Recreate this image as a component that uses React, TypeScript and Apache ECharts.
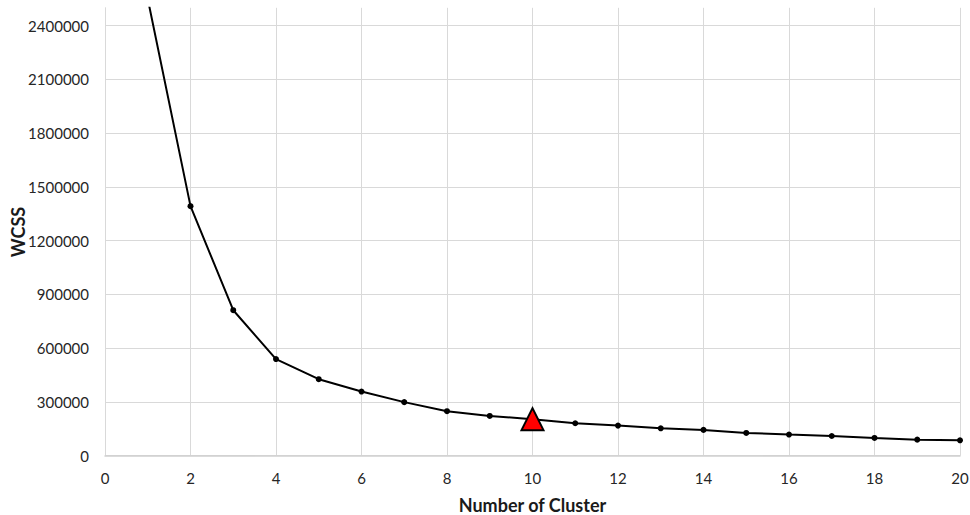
import React, { useEffect, useRef } from "react";
import * as echarts from "echarts";

const clusters = [1, 2, 3, 4, 5, 6, 7, 8, 9, 10, 11, 12, 13, 14, 15, 16, 17, 18, 19, 20];
const wcss = [
  2550000, 1393000, 812000, 539500, 427000, 358000, 299000, 248500, 222000, 204000,
  181000, 168000, 153000, 144000, 127000, 118000, 110000, 99000, 89600, 86000,
];
const highlightCluster = 10;
const xTitle = "Number of Cluster";
const yTitle = "WCSS";

export default function App() {
  const ref = useRef<HTMLDivElement>(null);
  useEffect(() => {
    if (!ref.current) return;
    const chart = echarts.init(ref.current, null, { renderer: "svg" });
    const lineData = clusters.map((c, i) => [c, wcss[i]]);
    const hi = clusters.indexOf(highlightCluster);
    const font = "Lato, 'Open Sans', sans-serif";
    chart.setOption({
      animation: false,
      backgroundColor: "#ffffff",
      grid: {
        left: 105,
        right: 10,
        top: 7.8,
        bottom: 59.3,
        containLabel: false,
        outerBoundsMode: "none",
      },
      graphic: [
        {
          type: "text",
          x: 18,
          y: 232,
          rotation: Math.PI / 2,
          style: {
            text: yTitle,
            fontFamily: font,
            fontSize: 18,
            fontWeight: "bold",
            fill: "#1a1a1a",
            align: "center",
            verticalAlign: "middle",
          },
        },
      ],
      xAxis: {
        type: "value",
        min: 0,
        max: 20,
        interval: 2,
        name: xTitle,
        nameLocation: "middle",
        nameGap: 40,
        nameTextStyle: { fontFamily: font, fontSize: 18, fontWeight: "bold", color: "#1a1a1a" },
        axisLine: { show: true, lineStyle: { color: "#d0d0d0", width: 1.5 } },
        axisTick: { show: false },
        axisLabel: { fontFamily: font, fontSize: 15, color: "#262626", margin: 15 },
        splitLine: { show: true, lineStyle: { color: "#d9d9d9", width: 1 } },
      },
      yAxis: {
        type: "value",
        min: 0,
        max: 2500000,
        interval: 300000,
        axisLine: { show: true, lineStyle: { color: "#d9d9d9", width: 1 } },
        axisTick: { show: false },
        axisLabel: {
          fontFamily: font,
          fontSize: 15,
          color: "#262626",
          margin: 16,
          showMaxLabel: false,
          formatter: (v: number) => String(v),
        },
        splitLine: { show: true, showMaxLine: false, lineStyle: { color: "#d9d9d9", width: 1 } },
      },
      series: [
        {
          type: "line",
          data: lineData,
          clip: true,
          symbol: "circle",
          symbolSize: 6,
          itemStyle: { color: "#000000" },
          lineStyle: { color: "#000000", width: 2 },
          z: 2,
        },
        {
          type: "scatter",
          data: [lineData[hi]],
          symbol: "triangle",
          symbolSize: [22, 22],
          itemStyle: { color: "#ff0000", borderColor: "#000000", borderWidth: 2, opacity: 1 },
          z: 3,
        },
      ],
    });
    return () => chart.dispose();
  }, []);
  return (
    <div
      ref={ref}
      style={{ position: "fixed", left: 0, top: 0, width: 970, height: 515, background: "#fff" }}
    />
  );
}
